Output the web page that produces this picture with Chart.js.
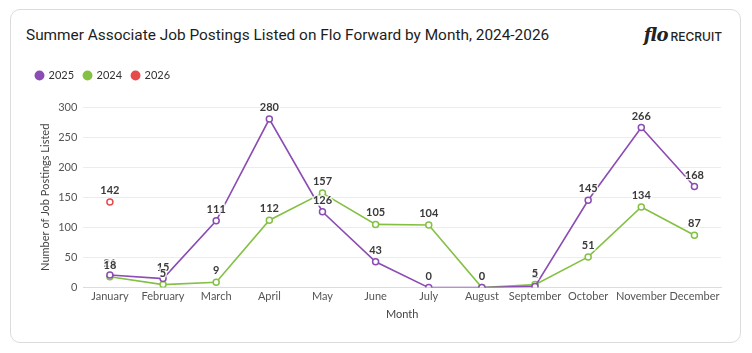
<!DOCTYPE html>
<html>
<head>
<meta charset="utf-8">
<script src="https://cdn.jsdelivr.net/npm/chart.js@4"></script>
<style>
  body { margin: 0; background: #fff; }
  #card {
    position: absolute; left: 10px; top: 9px; width: 729px; height: 332px;
    border: 1px solid #dcdcdc; border-radius: 10px; background: #fff;
  }
  #title {
    position: absolute; left: 15px; top: 16px;
    font-family: Roboto, "Noto Sans", sans-serif; font-size: 15.4px; font-weight: 400; color: #1d1d1d;
  }
  #logo { position: absolute; right: 18px; top: 14px; color: #222; white-space: nowrap; }
  #logo .flo { font-family: "DejaVu Serif", serif; font-style: italic; font-weight: bold; font-size: 18px; letter-spacing: -1px; }
  #logo .rec { font-family: Inter, sans-serif; font-weight: 500; font-size: 12px; margin-left: 3px; }
  #wrap { position: absolute; left: 15px; top: 50px; width: 712px; height: 272px; }
</style>
</head>
<body>
<div id="card">
  <div id="title">Summer Associate Job Postings Listed on Flo Forward by Month, 2024-2026</div>
  <div id="logo"><span class="flo">flo</span><span class="rec">RECRUIT</span></div>
  <div id="wrap"><canvas id="chart"></canvas></div>
</div>
<script>
const months = ["January", "February", "March", "April", "May", "June", "July",
  "August", "September", "October", "November", "December"];
const postings2025 = [21, 15, 111, 280, 126, 43, 0, 0, 2, 145, 266, 168];
const postings2024 = [18, 5, 9, 112, 157, 105, 104, 0, 5, 51, 134, 87];
const postings2026 = [142, null, null, null, null, null, null, null, null, null, null, null];
const yTicks = [0, 50, 100, 150, 200, 250, 300];

// draws the value above every point
const valueLabels = {
  id: "valueLabels",
  afterDatasetsDraw(chart) {
    const ctx = chart.ctx;
    ctx.save();
    ctx.font = "bold 11px Lato";
    ctx.textAlign = "center";
    ctx.textBaseline = "bottom";
    chart.data.datasets.forEach((ds, i) => {
      const meta = chart.getDatasetMeta(i);
      meta.data.forEach((pt, j) => {
        const v = ds.data[j];
        if (v === null || v === undefined) return;
        ctx.lineWidth = 3;
        ctx.strokeStyle = "rgba(255,255,255,0.8)";
        ctx.strokeText(String(v), pt.x, pt.y - 6);
        ctx.fillStyle = "#3a3a3a";
        ctx.fillText(String(v), pt.x, pt.y - 6);
      });
    });
    ctx.restore();
  }
};

// extra room under the legend
const legendGap = {
  id: "legendGap",
  beforeInit(chart) {
    const fit = chart.legend.fit;
    chart.legend.fit = function () {
      fit.bind(chart.legend)();
      this.height += 16;
    };
  }
};

function series(label, data, color) {
  return {
    label, data,
    borderColor: color,
    backgroundColor: color,
    pointBackgroundColor: "#fff",
    pointBorderColor: color,
    pointBorderWidth: 1.5,
    pointRadius: 3,
    borderWidth: 1.6,
    tension: 0,
    fill: false
  };
}

new Chart(document.getElementById("chart"), {
  type: "line",
  data: {
    labels: months,
    datasets: [
      series("2025", postings2025, "#8b4cb3"),
      series("2024", postings2024, "#84c043"),
      series("2026", postings2026, "#e54b4b")
    ]
  },
  plugins: [valueLabels, legendGap],
  options: {
    responsive: true,
    maintainAspectRatio: false,
    animation: false,
    layout: { padding: { right: 17, top: 0, bottom: 11 } },
    plugins: {
      legend: {
        position: "top",
        align: "start",
        labels: {
          usePointStyle: true,
          pointStyle: "circle",
          boxWidth: 7,
          boxHeight: 7,
          padding: 10,
          color: "#333",
          font: { family: "Lato", size: 11 },
          generateLabels(chart) {
            return chart.data.datasets.map((ds, i) => ({
              text: ds.label,
              fillStyle: ds.borderColor,
              strokeStyle: ds.borderColor,
              fontColor: "#333",
              pointStyle: "circle",
              lineWidth: 0,
              datasetIndex: i
            }));
          }
        }
      },
      tooltip: { enabled: false }
    },
    scales: {
      y: {
        min: 0, max: 300,
        afterBuildTicks(axis) { axis.ticks = yTicks.map(v => ({ value: v })); },
        ticks: { color: "#555", font: { family: "Lato", size: 11 }, padding: 6 },
        grid: { color: "#ececec", drawTicks: false },
        border: { display: false },
        title: {
          display: true, text: "Number of Job Postings Listed",
          color: "#444", font: { family: "Lato", size: 11 }, padding: { top: 13, bottom: 0 }
        }
      },
      x: {
        offset: true,
        ticks: { color: "#555", font: { family: "Lato", size: 11 }, padding: 2, maxRotation: 0, autoSkip: false },
        grid: { display: false, drawTicks: false },
        border: { color: "#dcdcdc" },
        title: {
          display: true, text: "Month",
          color: "#444", font: { family: "Lato", size: 11 }, padding: { top: 3, bottom: 0 }
        }
      }
    }
  }
});
</script>
</body>
</html>
